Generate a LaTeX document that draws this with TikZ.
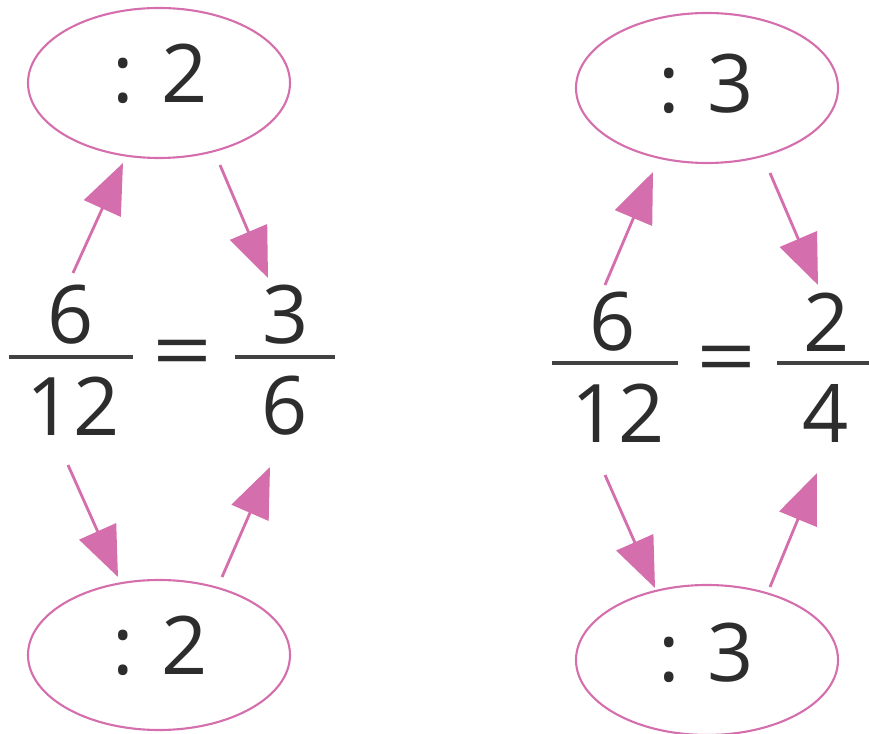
\documentclass[tikz,border=0pt]{standalone}
\usepackage{fontspec}
\setmainfont{Open Sans}
\usepackage{xcolor}
\usepackage{tikz}
\usetikzlibrary{arrows.meta,shapes.geometric}

\definecolor{pinkline}{RGB}{212,110,172}
\definecolor{digitgray}{RGB}{45,45,45}

\begin{document}
\begin{tikzpicture}[
  oval/.style={draw=pinkline, line width=0.6pt, ellipse, minimum width=2.62cm, minimum height=1.5cm, inner sep=0pt},
  arrow/.style={draw=pinkline, line width=0.8pt, -{Triangle[length=5mm,width=4mm]}, fill=pinkline},
  num/.style={font=\fontsize{23}{28}\selectfont, text=digitgray, inner sep=0pt},
  bar/.style={draw=digitgray!90, line width=0.9pt}
]
\useasboundingbox (0,0) rectangle (8.69,-7.34);

% left: 6/12 = 3/6
\node[oval] (topL) at (1.59,-0.83) {};
\node[num] (topLt) at (1.60,-0.74) {: 2};
\node[oval] (botL) at (1.59,-6.55) {};
\node[num] (botLt) at (1.60,-6.46) {: 2};
\node[num] (numLa) at (0.71,-3.15) {6};
\node[num] (denLa) at (0.73,-4.06) {12};
\node[num] (eqL) at (1.83,-3.60) {\scalebox{1.3}[1]{=}};
\node[num] (numLb) at (2.86,-3.15) {3};
\node[num] (denLb) at (2.85,-4.06) {6};
\coordinate (barLa1) at (0.09,-3.57);
\coordinate (barLa2) at (1.33,-3.57);
\coordinate (barLb1) at (2.35,-3.57);
\coordinate (barLb2) at (3.35,-3.57);
\draw[bar] (barLa1) -- (barLa2);
\draw[bar] (barLb1) -- (barLb2);

% right: 6/12 = 2/4
\node[oval] (topR) at (7.07,-0.88) {};
\node[num] (topRt) at (7.06,-0.84) {: 3};
\node[oval] (botR) at (7.07,-6.60) {};
\node[num] (botRt) at (7.06,-6.53) {: 3};
\node[num] (numRa) at (6.13,-3.22) {6};
\node[num] (denRa) at (6.18,-4.13) {12};
\node[num] (eqR) at (7.27,-3.66) {\scalebox{1.3}[1]{=}};
\node[num] (numRb) at (8.27,-3.22) {2};
\node[num] (denRb) at (8.26,-4.13) {4};
\coordinate (barRa1) at (5.52,-3.63);
\coordinate (barRa2) at (6.78,-3.63);
\coordinate (barRb1) at (7.77,-3.63);
\coordinate (barRb2) at (8.69,-3.63);
\draw[bar] (barRa1) -- (barRa2);
\draw[bar] (barRb1) -- (barRb2);

% arrow ends
\foreach \n/\x/\y in {aL1/0.73/-2.73, bL1/1.23/-1.63, aL2/2.20/-1.65, bL2/2.68/-2.78,
                      aL3/0.68/-4.65, bL3/1.18/-5.77, aL4/2.22/-5.77, bL4/2.70/-4.67,
                      aR1/6.05/-2.85, bR1/6.53/-1.72, aR2/7.70/-1.73, bR2/8.18/-2.85,
                      aR3/6.05/-4.75, bR3/6.55/-5.88, aR4/7.70/-5.87, bR4/8.17/-4.73} {
  \coordinate (\n) at (\x,\y);
}
\foreach \i in {L1,L2,L3,L4,R1,R2,R3,R4} {
  \draw[arrow] (a\i) -- (b\i);
}
\end{tikzpicture}
\end{document}
